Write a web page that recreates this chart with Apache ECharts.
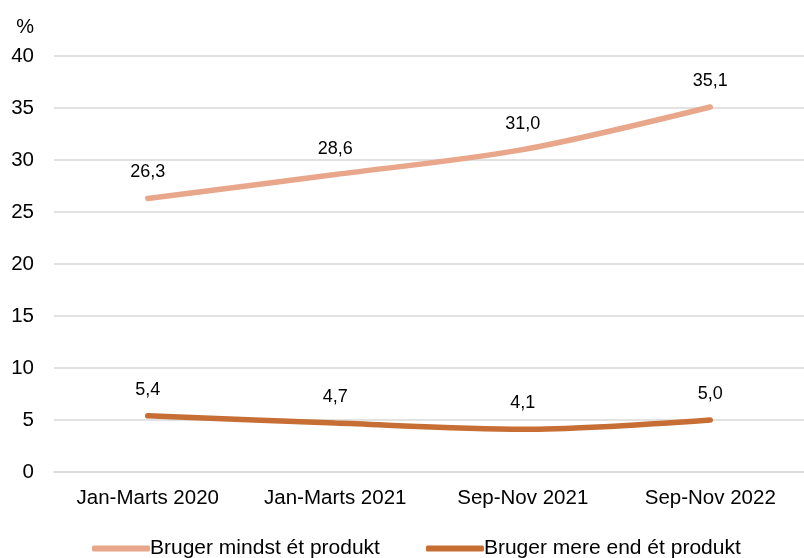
<!DOCTYPE html>
<html><head><meta charset="utf-8">
<script src="https://cdn.jsdelivr.net/npm/echarts@6/dist/echarts.min.js"></script>
<style>html,body{margin:0;padding:0;background:#fff}#c{width:804px;height:558px}</style>
</head><body><div id="c"></div>
<script>
const categories = ['Jan-Marts 2020', 'Jan-Marts 2021', 'Sep-Nov 2021', 'Sep-Nov 2022'];
const seriesNames = ['Bruger mindst ét produkt', 'Bruger mere end ét produkt'];
const atLeastOne = [26.3, 28.6, 31.0, 35.1];
const moreThanOne = [5.4, 4.7, 4.1, 5.0];
const colors = ['#E8A68A', '#C66E34'];
const fmt = v => v.toFixed(1).replace('.', ',');
const chart = echarts.init(document.getElementById('c'));
const mk = (name, data, color) => ({
  name, type: 'line', data, smooth: 0.3, symbol: 'circle', symbolSize: 0.01, showSymbol: true,
  lineStyle: {width: 5.5, color, cap: 'round'}, itemStyle: {color},
  label: {show: true, position: 'top', distance: 17, formatter: p => fmt(p.value),
    fontFamily: 'Liberation Sans', fontSize: 18, color: '#000'}
});
chart.setOption({
  animation: false,
  textStyle: {fontFamily: 'Liberation Sans'},
  grid: {left: 54, width: 757, top: 56, bottom: 86, containLabel: false},
  xAxis: {type: 'category', data: categories, boundaryGap: true,
    axisLine: {show: true, lineStyle: {color: '#d9d9d9', width: 1.5}}, axisTick: {show: false},
    axisLabel: {fontSize: 20.5, color: '#000', margin: 16, interval: 0, hideOverlap: false}},
  yAxis: {type: 'value', min: 0, max: 40, interval: 5, name: '%',
    nameLocation: 'end', nameGap: 19, nameTextStyle: {fontSize: 20, color: '#000', align: 'right', padding: [0, 20, 0, 0]},
    axisLine: {show: false}, axisTick: {show: false},
    axisLabel: {fontSize: 20.5, color: '#000', margin: 20},
    splitLine: {lineStyle: {color: '#d9d9d9', width: 1.5}}},
  legend: {top: 533, left: 87, itemWidth: 58, itemHeight: 6, itemGap: 46,
    icon: 'roundRect', textStyle: {fontSize: 21, color: '#000', padding: [0, 0, 0, -5]},
    data: seriesNames},
  series: [mk(seriesNames[0], atLeastOne, colors[0]), mk(seriesNames[1], moreThanOne, colors[1])]
});
</script></body></html>
